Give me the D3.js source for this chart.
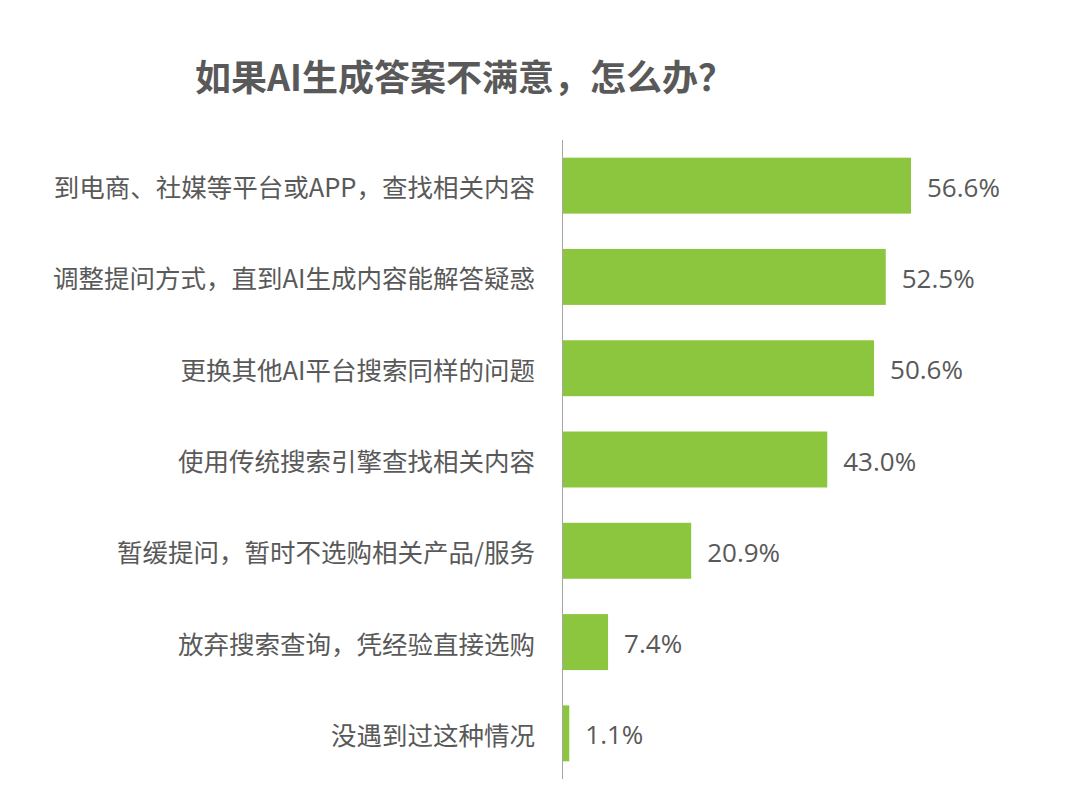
<!DOCTYPE html>
<html><head><meta charset="utf-8">
<script src="https://cdn.jsdelivr.net/npm/d3@7"></script>
<style>body{margin:0;background:#fff;}</style>
</head><body>
<svg id="c" width="1072" height="810"></svg>
<script>
const categories = ["到电商、社媒等平台或APP，查找相关内容","调整提问方式，直到AI生成内容能解答疑惑","更换其他AI平台搜索同样的问题","使用传统搜索引擎查找相关内容","暂缓提问，暂时不选购相关产品/服务","放弃搜索查询，凭经验直接选购","没遇到过这种情况"];
const values = [56.6,52.5,50.6,43.0,20.9,7.4,1.1];
const title = "如果AI生成答案不满意，怎么办？";

const svg = d3.select("#c");
const x0 = 562.5;
const x = d3.scaleLinear().domain([0,56.6]).range([x0,911]);
const y = d3.scaleBand().domain(categories).range([140,779]).paddingInner(0.387).paddingOuter(0.1935);

svg.append("text").attr("x",195).attr("y",75).attr("dominant-baseline","central")
  .attr("font-family","'Noto Sans CJK SC'").attr("font-weight","bold").attr("font-size",36)
  .attr("fill","#595959").text(title);

svg.selectAll("rect.bar").data(values).join("rect").attr("class","bar")
  .attr("x",x0).attr("y",(d,i)=>y(categories[i])).attr("height",y.bandwidth())
  .attr("width",d=>x(d)-x0).attr("fill","#8CC63F");

svg.append("line").attr("x1",x0).attr("x2",x0).attr("y1",140).attr("y2",779)
  .attr("stroke","#A6A6A6").attr("stroke-width",1);

svg.selectAll("text.cat").data(categories).join("text").attr("class","cat")
  .attr("x",535).attr("y",d=>y(d)+y.bandwidth()/2).attr("text-anchor","end")
  .attr("dominant-baseline","central").attr("font-family","'Noto Sans CJK SC'")
  .attr("font-size",25.5).attr("fill","#595959").text(d=>d);

svg.selectAll("text.val").data(values).join("text").attr("class","val")
  .attr("x",d=>x(d)+16).attr("y",(d,i)=>y(categories[i])+y.bandwidth()/2+1)
  .attr("dominant-baseline","central").attr("font-family","'Open Sans'")
  .attr("font-size",26).attr("fill","#595959").text(d=>d.toFixed(1)+"%");
</script>
</body></html>
